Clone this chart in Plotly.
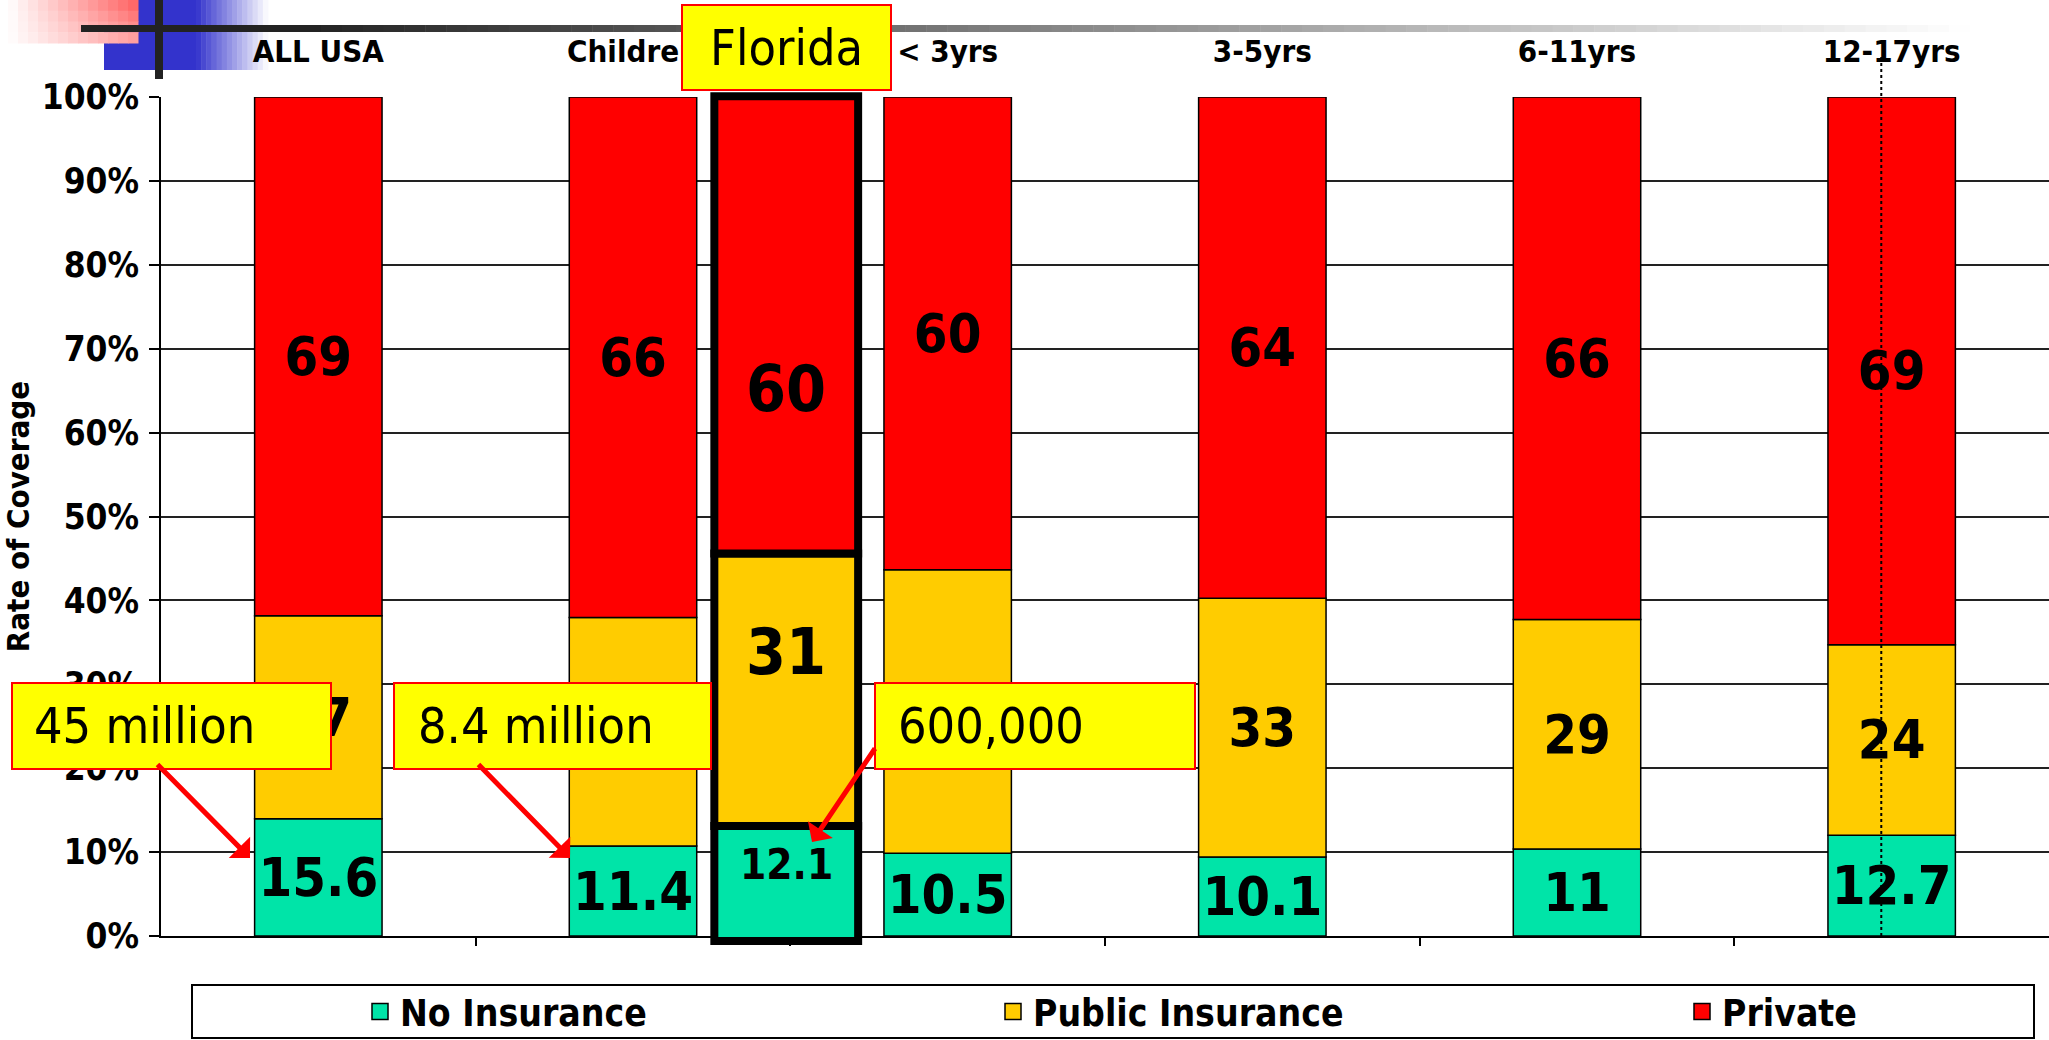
import plotly.graph_objects as go

# ---------------- data ----------------
categories = ["ALL USA", "Children", "< 3yrs", "3-5yrs", "6-11yrs", "12-17yrs"]
series_names = ["No Insurance", "Public Insurance", "Private"]
no_insurance = [15.6, 11.4, 10.5, 10.1, 11, 12.7]
public_insurance = [27, 29, 36, 33, 29, 24]
private_insurance = [69, 66, 60, 64, 66, 69]

florida_label = "Florida"
florida_values = [12.1, 31, 60]          # printed labels
florida_share = [13.7, 32.5, 54.5]       # segment heights (% of axis)
florida_label_y = [8.5, 33.9, 65.2]      # where the labels sit (% of axis)

callout_texts = ["45 million", "8.4 million", "600,000"]
y_ticks = list(range(0, 101, 10))
y_tick_text = [f"{v}%" for v in y_ticks]

# ---------------- styling / layout constants ----------------
W, H = 2049, 1040
L, R, T, B = 161, 2049, 97, 936          # main plot rectangle (pixels)
PT, PB = 80, 960                         # paper rectangle top / bottom (pixels)
COLORS = ["#00E4A8", "#FFCC00", "#FF0000"]
COND = "DejaVu Sans Condensed, DejaVu Sans, sans-serif"
FLORIDA_POS = 1.487
FLORIDA_BASE = -0.6
Y_MIN, Y_MAX = 0, 100


def px(x):
    return (x - L) / (R - L)


def py(y):
    return (PB - y) / (PB - PT)


# secondary (taller) y axis with the same scale, so the Florida bar border may spill past 0 / 100 %
unit = (B - T) / (Y_MAX - Y_MIN)
y2_range = [Y_MIN - (PB - B) / unit, Y_MAX + (T - PT) / unit]

series = [no_insurance, public_insurance, private_insurance]
totals = [sum(v) for v in zip(*series)]
shares = [[v / t * 100 for v, t in zip(s, totals)] for s in series]

fig = go.Figure()

xs = list(range(len(categories)))
cum = [0.0] * len(categories)
for i, (name, sh, vals) in enumerate(zip(series_names, shares, series)):
    fig.add_trace(go.Bar(
        x=xs, y=sh, base=list(cum), width=0.405,
        marker=dict(color=COLORS[i], line=dict(color="black", width=1.5)),
        text=[f"{v:g}" for v in vals], textposition="inside",
        insidetextanchor="middle", textangle=0, constraintext="none",
        textfont=dict(family=COND, size=54, color="black", weight="bold"),
        showlegend=False, hoverinfo="skip", name=name, cliponaxis=False,
    ))
    cum = [c + s for c, s in zip(cum, sh)]

# Florida overlay bar on its own (taller) subplot
fcum = FLORIDA_BASE
for i, (name, sh) in enumerate(zip(series_names, florida_share)):
    fig.add_trace(go.Bar(
        x=[FLORIDA_POS], y=[sh], base=[fcum], width=0.457, xaxis="x3", yaxis="y2",
        marker=dict(color=COLORS[i], line=dict(color="black", width=8)),
        cliponaxis=False, showlegend=False, hoverinfo="skip", name=florida_label + " " + name,
    ))
    fcum += sh

# invisible trace that carries the top category axis
fig.add_trace(go.Scatter(x=[None], y=[None], xaxis="x2", yaxis="y", mode="markers",
                         showlegend=False, hoverinfo="skip"))

# legend proxies
legend_ids = ["legend", "legend2", "legend3"]
for i, name in enumerate(series_names):
    fig.add_trace(go.Scatter(
        x=[None], y=[None], mode="markers", name=name,
        marker=dict(symbol="square", size=16, color=COLORS[i], line=dict(color="black", width=1.5)),
        legend=legend_ids[i], showlegend=True,
    ))

annotations = []
fsizes = [42, 64, 64]
for v, yv, fs in zip(florida_values, florida_label_y, fsizes):
    annotations.append(dict(x=FLORIDA_POS, y=yv, xref="x3", yref="y2", text=f"{v:g}", showarrow=False,
                            font=dict(family=COND, size=fs, color="black", weight="bold")))

# callout texts
box_left = [32, 416, 896]
for t, xl in zip(callout_texts, box_left):
    annotations.append(dict(x=px(xl), y=py(726), xref="paper", yref="paper", text=t, showarrow=False,
                            xanchor="left", yanchor="middle",
                            font=dict(family=COND, size=50, color="black")))
annotations.append(dict(x=px(786), y=py(48), xref="paper", yref="paper", text=florida_label, showarrow=False,
                        xanchor="center", yanchor="middle", font=dict(family=COND, size=50, color="black")))

# arrows
arrows = [((250, 858), (-94, -95)), ((570, 858), (-93, -95)), ((812, 842), (64, -95))]
for (hx, hy), (ax, ay) in arrows:
    annotations.append(dict(x=px(hx), y=py(hy), xref="paper", yref="paper", text="", showarrow=True,
                            ax=ax, ay=ay, arrowhead=1, arrowsize=1, arrowwidth=5, arrowcolor="#FF0000",
                            standoff=0))

shapes = []


def rect(x0, y0, x1, y1, fill, line_color=None, lw=0, layer="above"):
    d = dict(type="rect", xref="paper", yref="paper", x0=px(x0), x1=px(x1), y0=py(y1), y1=py(y0),
             fillcolor=fill, layer=layer, line=dict(width=lw, color=line_color or "rgba(0,0,0,0)"))
    shapes.append(d)


def mix(c1, c2, t):
    return "rgb(%d,%d,%d)" % tuple(round(a + (b - a) * t) for a, b in zip(c1, c2))


WHITE = (255, 255, 255)
# blue block with fade (slide decoration, behind axis labels)
rect(104, 0, 197, 70, "#3333CC", layer="below")
n = 14
for k in range(n):
    x0 = 196 + k * (268 - 196) / n
    x1 = 196 + (k + 1) * (268 - 196) / n + 0.5
    rect(x0, 0, x1, 70, mix((51, 51, 204), WHITE, (k + 0.5) / n), layer="below")
# red gradient block
cols, rows = 13, 4
for c in range(cols):
    for r_ in range(rows):
        x0 = 8 + c * 130 / cols
        x1 = 8 + (c + 1) * 130 / cols + 0.5
        y0 = r_ * 43 / rows
        y1 = (r_ + 1) * 43 / rows + 0.5
        t = ((c + 0.5) / cols) * (1 - 0.45 * (r_ + 0.5) / rows)
        rect(x0, y0, x1, y1, mix(WHITE, (255, 90, 90), t), layer="below")
# horizontal gradient line
rect(81, 25, 300, 32, "#222222", layer="below")
n = 80
for k in range(n):
    x0 = 300 + k * (1970 - 300) / n
    x1 = 300 + (k + 1) * (1970 - 300) / n + 0.5
    rect(x0, 25, x1, 32, mix((34, 34, 34), WHITE, (k + 0.5) / n), layer="below")
# vertical black line
rect(155, 0, 163, 79, "#222222", layer="below")

# callout boxes
for x0, x1 in [(12, 331), (394, 711), (875, 1195)]:
    rect(x0, 683, x1, 769, "#FFFF00", "#FF0000", 2)
rect(682, 5, 891, 90, "#FFFF00", "#FF0000", 2)

# legend frame
rect(192, 985, 2034, 1038, "rgba(0,0,0,0)", "black", 2)

# stray dotted line
shapes.append(dict(type="line", xref="x", yref="paper", x0=4.967, x1=4.967, y0=py(B), y1=py(55),
                   line=dict(color="black", width=2, dash="dot"), layer="above"))

legend_common = dict(orientation="h", yanchor="middle", xanchor="left", bgcolor="rgba(0,0,0,0)",
                     borderwidth=0, font=dict(family=COND, size=37, color="black", weight="bold"))

y_domain = [py(B), py(T)]

fig.update_layout(
    width=W, height=H,
    margin=dict(l=L, r=W - R, t=PT, b=H - PB, pad=0, autoexpand=False),
    paper_bgcolor="white", plot_bgcolor="rgba(0,0,0,0)",
    barmode="overlay",
    xaxis=dict(range=[-0.5, 5.5], tickmode="array", tickvals=[0.5, 1.5, 2.5, 3.5, 4.5],
               showticklabels=False, ticks="outside", ticklen=8, tickwidth=2, tickcolor="black",
               showline=True, linecolor="black", linewidth=2, showgrid=False, zeroline=False,
               anchor="y"),
    xaxis2=dict(overlaying="x", side="top", anchor="y", range=[-0.5, 5.5], tickmode="array",
                tickvals=xs, ticktext=categories, ticks="", showline=False, showgrid=False,
                zeroline=False, ticklabelstandoff=28,
                tickfont=dict(family=COND, size=31, color="black", weight="bold")),
    xaxis3=dict(domain=[0, 1], range=[-0.5, 5.5], anchor="y2", visible=False),
    yaxis2=dict(domain=[0, 1], range=y2_range, anchor="x3", visible=False),
    yaxis=dict(domain=y_domain, range=[Y_MIN, Y_MAX], tickmode="array", tickvals=y_ticks,
               ticktext=y_tick_text, anchor="x",
               ticks="outside", ticklen=10, tickwidth=2, tickcolor="black",
               showline=True, linecolor="black", linewidth=2,
               showgrid=True, gridcolor="#222222", gridwidth=2, zeroline=False,
               ticklabelstandoff=3,
               tickfont=dict(family=COND, size=35, color="black", weight="bold"),
               title=dict(text="Rate of Coverage", standoff=4,
                          font=dict(family=COND, size=31, color="black", weight="bold"))),
    legend=dict(x=px(360), y=py(1012), **legend_common),
    legend2=dict(x=px(993), y=py(1012), **legend_common),
    legend3=dict(x=px(1682), y=py(1012), **legend_common),
    shapes=shapes,
    annotations=annotations,
)

fig.write_html("out.html", config={"displayModeBar": False},
               post_script="document.body.style.margin='0';document.body.style.overflow='hidden';")
